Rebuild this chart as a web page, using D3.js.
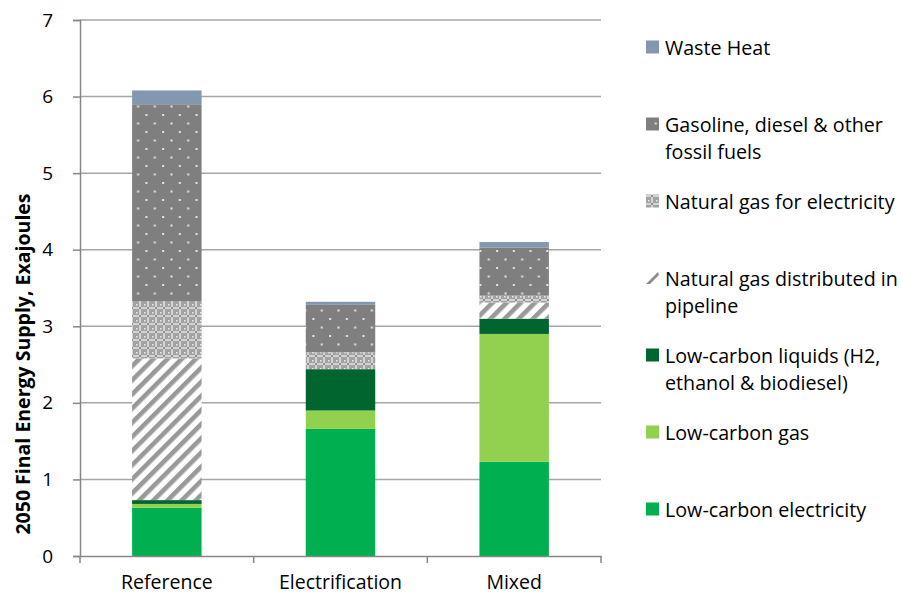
<!DOCTYPE html>
<html><head><meta charset="utf-8">
<script src="https://cdn.jsdelivr.net/npm/d3@7"></script>
<style>
html,body{margin:0;padding:0;background:#fff;}
text{font-family:"Open Sans",sans-serif;fill:#000;}
</style></head>
<body>
<svg id="chart" width="902" height="594"></svg>
<script>
const categories = ["Reference", "Electrification", "Mixed"];
const seriesNames = [
  "Low-carbon electricity",
  "Low-carbon gas",
  "Low-carbon liquids (H2, ethanol & biodiesel)",
  "Natural gas distributed in pipeline",
  "Natural gas for electricity",
  "Gasoline, diesel & other fossil fuels",
  "Waste Heat"
];
const lowCarbonElectricity = [0.63, 1.66, 1.23];
const lowCarbonGas        = [0.05, 0.24, 1.67];
const lowCarbonLiquids    = [0.05, 0.54, 0.20];
const ngPipeline          = [1.85, 0.00, 0.21];
const ngElectricity       = [0.75, 0.22, 0.09];
const gasolineFossil      = [2.57, 0.62, 0.63];
const wasteHeat           = [0.18, 0.04, 0.07];
const yTicks = [0, 1, 2, 3, 4, 5, 6, 7];
const yTitle = "2050 Final Energy Supply, Exajoules";
const legendLines = [
  ["Waste Heat"],
  ["Gasoline, diesel & other", "fossil fuels"],
  ["Natural gas for electricity"],
  ["Natural gas distributed in", "pipeline"],
  ["Low-carbon liquids (H2,", "ethanol & biodiesel)"],
  ["Low-carbon gas"],
  ["Low-carbon electricity"]
];

const seriesValues = [lowCarbonElectricity, lowCarbonGas, lowCarbonLiquids, ngPipeline, ngElectricity, gasolineFossil, wasteHeat];
const keys = seriesNames;
const table = categories.map((c, i) => {
  const row = {category: c};
  keys.forEach((k, j) => row[k] = seriesValues[j][i]);
  return row;
});

const svg = d3.select("#chart");
const defs = svg.append("defs");

// patterns
const pGas = defs.append("pattern").attr("id", "pGasoline").attr("patternUnits", "userSpaceOnUse")
  .attr("width", 16.7).attr("height", 17);
pGas.append("rect").attr("width", 16.7).attr("height", 17).attr("fill", "#7f7f7f");
pGas.append("rect").attr("x", 3.5).attr("y", 3.5).attr("width", 2).attr("height", 2).attr("fill", "#e6e6e6");
pGas.append("rect").attr("x", 11.85).attr("y", 12).attr("width", 2).attr("height", 2).attr("fill", "#e6e6e6");

const pNg = defs.append("pattern").attr("id", "pNgElec").attr("patternUnits", "userSpaceOnUse")
  .attr("width", 8).attr("height", 8);
pNg.append("rect").attr("width", 8).attr("height", 8).attr("fill", "#a2a2a2");
pNg.append("rect").attr("x", 3).attr("y", 0).attr("width", 2).attr("height", 8).attr("fill", "#d4d4d4");
pNg.append("rect").attr("x", 0).attr("y", 3).attr("width", 8).attr("height", 2).attr("fill", "#d4d4d4");
pNg.append("rect").attr("x", 3).attr("y", 3).attr("width", 2).attr("height", 2).attr("fill", "#8c8c8c");
pNg.append("rect").attr("x", 0).attr("y", 0).attr("width", 1.5).attr("height", 1.5).attr("fill", "#ececec");

const pPipe = defs.append("pattern").attr("id", "pPipe").attr("patternUnits", "userSpaceOnUse")
  .attr("width", 10).attr("height", 10).attr("patternTransform", "rotate(45)");
pPipe.append("rect").attr("width", 10).attr("height", 10).attr("fill", "#ffffff");
pPipe.append("rect").attr("x", 0).attr("y", 0).attr("width", 4.6).attr("height", 10).attr("fill", "#999999");

const fills = {
  "Low-carbon electricity": "#00b050",
  "Low-carbon gas": "#92d050",
  "Low-carbon liquids (H2, ethanol & biodiesel)": "#00652f",
  "Natural gas distributed in pipeline": "url(#pPipe)",
  "Natural gas for electricity": "url(#pNgElec)",
  "Gasoline, diesel & other fossil fuels": "url(#pGasoline)",
  "Waste Heat": "#8497b0"
};

const plotL = 80, plotR = 601, plotT = 20, plotB = 556;
const x = d3.scaleBand().domain(categories).range([plotL, plotR]).paddingInner(0).paddingOuter(0);
const y = d3.scaleLinear().domain([0, 7]).range([plotB, plotT]);
const barW = x.bandwidth() * 0.40;

// gridlines
svg.append("g").selectAll("line").data(yTicks.filter(d => d > 0)).join("line")
  .attr("x1", plotL).attr("x2", plotR)
  .attr("y1", d => y(d)).attr("y2", d => y(d))
  .attr("stroke", "#a6a6a6").attr("stroke-width", 1.5);

// bars
const stack = d3.stack().keys(keys)(table);
svg.append("g").selectAll("g").data(stack).join("g")
  .attr("fill", d => fills[d.key])
  .selectAll("rect").data(d => d).join("rect")
  .attr("x", d => x(d.data.category) + (x.bandwidth() - barW) / 2)
  .attr("width", barW)
  .attr("y", d => y(d[1]))
  .attr("height", d => Math.max(0, y(d[0]) - y(d[1])));

// y axis
const yAxis = d3.axisLeft(y).tickValues(yTicks).tickSize(7).tickPadding(20).tickFormat(d3.format("d"));
const gy = svg.append("g").attr("transform", `translate(${plotL},0)`).call(yAxis);
gy.select(".domain").attr("stroke", "#868686").attr("stroke-width", 1.5);
gy.selectAll(".tick line").attr("stroke", "#868686").attr("stroke-width", 1.5);
gy.selectAll(".tick text").attr("font-size", 19).attr("font-family", "Open Sans").attr("fill", "#000");

// x axis
const xAxis = d3.axisBottom(x).tickSize(0).tickPadding(19);
const gx = svg.append("g").attr("transform", `translate(0,${plotB})`).call(xAxis);
gx.select(".domain").attr("stroke", "#868686").attr("stroke-width", 1.5);
gx.selectAll(".tick text").attr("font-size", 19.5).attr("font-family", "Open Sans").attr("fill", "#000");
// boundary ticks
const bounds = categories.map(c => x(c)).concat([x(categories[categories.length - 1]) + x.bandwidth()]);
gx.selectAll(".btick").data(bounds).join("line").attr("class", "btick")
  .attr("x1", d => d).attr("x2", d => d).attr("y1", 0).attr("y2", 7)
  .attr("stroke", "#868686").attr("stroke-width", 1.5);

// y title
svg.append("text")
  .attr("transform", `translate(22,364) rotate(-90)`)
  .attr("text-anchor", "middle").attr("dominant-baseline", "central")
  .attr("font-size", 19.5).attr("font-weight", "bold")
  .text(yTitle);

// legend (top to bottom)
const legendOrder = keys.slice().reverse();
const legY0 = 47, legStep = 77;
const leg = svg.append("g");
legendOrder.forEach((k, i) => {
  const cy = legY0 + i * legStep;
  const g = leg.append("g");
  if (k === "Natural gas distributed in pipeline") {
    g.append("path").attr("d", `M646,${cy + 6} L658,${cy - 6} L659,${cy - 3} L650,${cy + 6} Z`).attr("fill", "#8c8c8c");
  } else {
    g.append("rect").attr("x", 646).attr("y", cy - 6.5).attr("width", 13).attr("height", 13).attr("fill", fills[k]);
  }
  legendLines[i].forEach((line, j) => {
    g.append("text").attr("x", 665).attr("y", cy + j * 27)
      .attr("dominant-baseline", "central").attr("font-size", 19.7).text(line);
  });
});
</script>
</body></html>
